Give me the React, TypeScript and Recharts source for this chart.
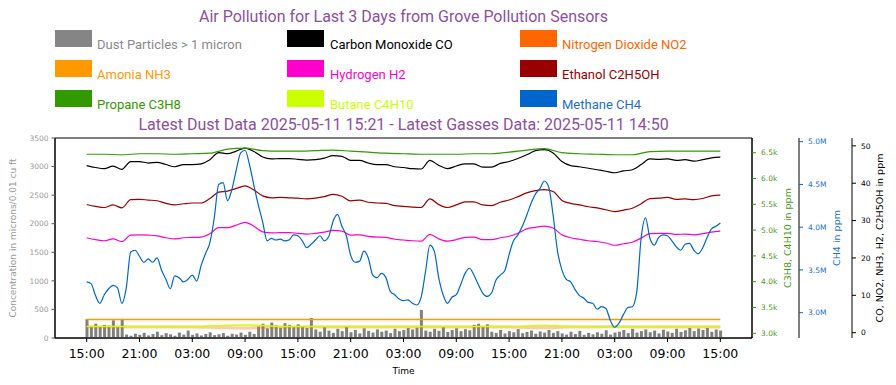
import { ComposedChart, Bar, Line, XAxis, YAxis, ReferenceArea } from 'recharts'

const TITLE = 'Air Pollution for Last 3 Days from Grove Pollution Sensors'
const SUBTITLE = 'Latest Dust Data 2025-05-11 15:21 - Latest Gasses Data: 2025-05-11 14:50'

// hours since 15:00 on the first day
const TIME_TICKS = [0, 6, 12, 18, 24, 30, 36, 42, 48, 54, 60, 66, 72]
const TIME_LABELS = [
  '15:00', '21:00', '03:00', '09:00', '15:00', '21:00', '03:00',
  '09:00', '15:00', '21:00', '03:00', '09:00', '15:00',
]

const LEGEND_NAMES = [
  'Dust Particles > 1 micron', 'Carbon Monoxide CO', 'Nitrogen Dioxide NO2',
  'Amonia NH3', 'Hydrogen H2', 'Ethanol C2H5OH',
  'Propane C3H8', 'Butane C4H10', 'Methane CH4',
]
const LEGEND_COLORS = [
  '#858585', '#000000', '#ff6600',
  '#ff9900', '#ff00cc', '#990000',
  '#339900', '#ccff00', '#0066cc',
]
const LEGEND_TEXT_COLORS = [
  '#8a8a8a', '#000000', '#ff6600',
  '#ff9900', '#ff00cc', '#990000',
  '#339900', '#ccff00', '#1a6fd0',
]

// dust, particles per 0.01 cu ft, every 30 minutes
const DUST = [
  330, 210, 250, 195, 230, 215, 310, 200, 335,
  60, 40, 75, 55, 90, 45, 70, 110, 50, 85, 65, 40, 95, 60, 130, 55,
  80, 45, 70, 100, 50, 65, 85, 40, 75, 60, 95, 55, 110, 70,
  200, 250, 170, 270, 220, 180, 260, 230, 190, 240, 210, 175, 350,
  150, 110, 190, 130, 90, 160, 120, 210, 100, 140, 80,
  170, 125, 95, 150, 110, 130, 85, 160, 120, 140, 175,
  150, 180, 490, 130, 110, 160, 125, 190, 105, 140, 170, 120, 155, 135,
  230, 250, 200, 240,
  110, 90, 140, 80, 120, 100, 155, 85, 105, 130, 75, 115, 95, 140, 90, 120,
  80, 60, 110, 70, 125, 55, 90, 65, 100, 75, 135, 60, 95,
  110, 140, 85, 160, 95, 120, 150, 100, 130, 80, 145, 115,
  90, 160, 105, 135, 175, 120, 165, 140, 175, 110, 150, 130,
]

// methane, millions of ppm, every 30 minutes
const CH4 = [
  3.36, 3.34, 3.20, 3.11, 3.21, 3.28, 3.32, 3.29, 3.11, 3.29, 3.71, 3.73,
  3.66, 3.59, 3.63, 3.59, 3.64, 3.50, 3.39, 3.28, 3.43, 3.41, 3.36, 3.39,
  3.44, 3.37, 3.55, 3.69, 3.82, 4.11, 4.50, 4.52, 4.31, 4.44, 4.67, 4.87,
  4.90, 4.73, 4.49, 4.26, 4.06, 3.84, 3.87, 3.85, 3.86, 3.84, 3.85, 3.91,
  3.90, 3.84, 3.76, 3.80, 3.85, 3.90, 3.84, 3.89, 4.07, 4.15, 4.01, 3.90,
  3.67, 3.59, 3.60, 3.72, 3.64, 3.44, 3.41, 3.46, 3.41, 3.25, 3.21, 3.16,
  3.14, 3.15, 3.11, 3.09, 3.18, 3.48, 3.79, 3.72, 3.41, 3.21, 3.11, 3.18,
  3.21, 3.33, 3.46, 3.52, 3.44, 3.33, 3.23, 3.19, 3.23, 3.38, 3.44, 3.49,
  3.68, 3.84, 3.91, 4.01, 4.14, 4.28, 4.39, 4.45, 4.54, 4.47, 4.14, 3.72,
  3.50, 3.39, 3.36, 3.27, 3.20, 3.17, 3.12, 3.11, 3.04, 3.07, 3.05, 2.91,
  2.83, 2.88, 2.98, 3.06, 3.07, 3.24, 3.87, 4.11, 3.87, 3.79, 3.88, 3.91,
  3.90, 3.84, 3.77, 3.73, 3.80, 3.81, 3.73, 3.69, 3.76, 3.88, 3.98, 4.01,
  4.05,
]

// ppm, every hour
const CO = [
  44.7, 44.2, 43.9, 44.6, 43.7, 45.8, 45.8, 45.4, 45.6, 45.0, 44.4, 45.0,
  45.0, 45.2, 46.3, 48.2, 47.9, 48.6, 49.4, 48.5, 47.0, 46.5, 46.6, 46.6,
  46.4, 46.2, 46.3, 46.7, 47.4, 47.2, 46.1, 46.1, 45.4, 45.0, 45.0, 44.4,
  44.2, 43.9, 43.8, 46.1, 44.8, 43.9, 44.6, 45.2, 45.2, 44.3, 44.3, 45.3,
  45.8, 46.6, 47.6, 48.7, 49.0, 48.1, 45.8, 44.7, 44.4, 44.0, 43.6, 43.2,
  42.8, 43.3, 43.6, 45.0, 46.5, 46.4, 46.5, 46.1, 46.3, 45.9, 46.3, 46.8,
  47.0,
]
const C2H5OH = [
  34.3, 33.8, 33.5, 34.2, 33.4, 35.6, 35.7, 35.5, 35.3, 34.6, 34.2, 34.5,
  34.7, 34.7, 35.9, 37.6, 37.9, 38.6, 39.3, 38.2, 36.6, 36.1, 36.2, 36.1,
  36.0, 35.8, 36.0, 36.4, 37.0, 36.5, 35.3, 35.5, 34.9, 34.7, 34.6, 34.0,
  33.8, 33.6, 33.5, 35.8, 34.3, 33.5, 34.2, 35.0, 35.0, 34.2, 34.0, 34.9,
  35.5, 36.4, 37.4, 38.0, 38.3, 37.8, 35.4, 34.6, 34.2, 33.7, 33.4, 32.9,
  32.4, 32.8, 33.3, 34.5, 35.9, 36.0, 36.2, 35.7, 35.8, 35.6, 35.9, 36.6,
  36.8,
]
const H2 = [
  25.4, 24.9, 24.6, 25.1, 24.4, 26.1, 26.2, 26.1, 25.9, 25.4, 25.1, 25.4,
  25.5, 25.6, 26.5, 28.1, 28.1, 28.8, 29.5, 28.5, 27.0, 26.7, 26.8, 26.8,
  26.6, 26.4, 26.6, 26.9, 27.4, 27.2, 26.1, 26.2, 25.8, 25.6, 25.5, 25.0,
  24.8, 24.6, 24.5, 26.3, 25.1, 24.5, 24.9, 25.5, 25.6, 24.9, 24.9, 25.4,
  25.8, 26.6, 27.8, 28.2, 28.5, 28.0, 26.2, 25.4, 25.0, 24.6, 24.4, 24.0,
  23.4, 23.8, 24.2, 25.3, 26.5, 26.6, 26.6, 26.3, 26.4, 26.2, 26.5, 26.9,
  27.2,
]

// every 2 hours
const NH3 = [
  3.5, 3.5, 3.5, 3.5, 3.5, 3.5, 3.5, 3.5, 3.5, 3.5, 3.5, 3.5, 3.5,
  3.5, 3.5, 3.5, 3.5, 3.5, 3.5, 3.5, 3.5, 3.5, 3.5, 3.5, 3.5, 3.5,
  3.5, 3.5, 3.5, 3.5, 3.5, 3.5, 3.5, 3.5, 3.5, 3.5, 3.5,
]
const NO2 = [
  1.6, 1.55, 1.55, 1.5, 1.55, 1.55, 1.55, 1.45, 1.3, 1.25, 1.4, 1.55, 1.55,
  1.55, 1.5, 1.5, 1.55, 1.55, 1.55, 1.5, 1.5, 1.55, 1.55, 1.5, 1.5, 1.4,
  1.35, 1.45, 1.55, 1.55, 1.6, 1.55, 1.55, 1.55, 1.55, 1.5, 1.55,
]
// thousands of ppm, every 2 hours
const C3H8 = [
  6.47, 6.47, 6.46, 6.48, 6.48, 6.47, 6.48, 6.49, 6.57, 6.59, 6.54, 6.53, 6.53,
  6.54, 6.55, 6.53, 6.51, 6.49, 6.48, 6.47, 6.47, 6.47, 6.48, 6.48, 6.51, 6.55,
  6.58, 6.50, 6.48, 6.47, 6.46, 6.46, 6.52, 6.53, 6.53, 6.53, 6.53,
]
const C4H10 = [
  3.13, 3.13, 3.13, 3.13, 3.13, 3.13, 3.13, 3.14, 3.15, 3.16, 3.15, 3.13, 3.13,
  3.13, 3.13, 3.13, 3.13, 3.13, 3.13, 3.13, 3.13, 3.13, 3.13, 3.13, 3.13, 3.14,
  3.15, 3.14, 3.13, 3.13, 3.12, 3.13, 3.13, 3.13, 3.13, 3.13, 3.13,
]

const series = (values: number[], step: number) =>
  values.map((v, i) => ({ t: i * step, v }))

const dustData = DUST.map((dust, i) => ({ t: i * 0.5, dust }))

const FONT = '"DejaVu Sans", sans-serif'
const X_DOMAIN: [number, number] = [-3.6, 75.6]

export default function App() {
  const colX = [55, 287, 520]
  const textX = [97, 330, 562]
  return (
    <div style={{ position: 'absolute', left: 0, top: 0, width: 896, height: 385, background: '#fff', fontFamily: FONT }}>
      <ComposedChart
        width={896}
        height={385}
        data={dustData}
        margin={{ top: 138, right: 0, bottom: 0, left: 0 }}
      >
        <XAxis
          dataKey="t"
          type="number"
          domain={X_DOMAIN}
          allowDataOverflow
          ticks={TIME_TICKS}
          tickFormatter={(t: number) => TIME_LABELS[TIME_TICKS.indexOf(t)] ?? ''}
          tick={{ fontSize: 12.5, fill: '#000' }}
          tickSize={4}
          tickMargin={7}
          axisLine={{ stroke: '#000' }}
          tickLine={{ stroke: '#000' }}
          height={47}
          label={{ value: 'Time', position: 'insideBottom', offset: 11, style: { fontSize: 9, fill: '#000' } }}
        />
        <YAxis
          yAxisId="left"
          domain={[0, 3500]}
          ticks={[0, 500, 1000, 1500, 2000, 2500, 3000, 3500]}
          width={55}
          tick={{ fontSize: 7.5, fill: '#999' }}
          tickSize={3.5}
          tickMargin={3}
          axisLine={{ stroke: '#000' }}
          tickLine={{ stroke: '#555' }}
          label={{
            value: 'Concentration in microns/0.01 cu ft',
            angle: -90,
            position: 'insideLeft',
            offset: 13,
            style: { textAnchor: 'middle', fontSize: 9, fill: '#999' },
          }}
        />
        <YAxis
          yAxisId="r1"
          orientation="right"
          domain={[2.909, 6.785]}
          allowDataOverflow
          ticks={[3, 3.5, 4, 4.5, 5, 5.5, 6, 6.5]}
          tickFormatter={(v: number) => `${v.toFixed(1)}k`}
          width={47}
          tick={{ fontSize: 7.5, fill: '#4a9a22' }}
          tickSize={4}
          tickMargin={5}
          axisLine={{ stroke: '#000' }}
          tickLine={{ stroke: '#339900' }}
          label={{
            value: 'C3H8, C4H10 in ppm',
            angle: -90,
            position: 'insideRight',
            offset: 11,
            style: { textAnchor: 'middle', fontSize: 9.5, fill: '#4a9a22' },
          }}
        />
        <YAxis
          yAxisId="r2"
          orientation="right"
          domain={[2.704, 5.043]}
          allowDataOverflow
          ticks={[3, 3.5, 4, 4.5, 5]}
          tickFormatter={(v: number) => `${v.toFixed(1)}M`}
          width={53}
          tick={{ fontSize: 7.5, fill: '#1a6fd0' }}
          tickSize={4}
          tickMargin={5}
          axisLine={{ stroke: '#000' }}
          tickLine={{ stroke: '#0066cc' }}
          label={{
            value: 'CH4 in ppm',
            angle: -90,
            position: 'insideRight',
            offset: 15,
            style: { textAnchor: 'middle', fontSize: 9.5, fill: '#1a6fd0' },
          }}
        />
        <YAxis
          yAxisId="r3"
          orientation="right"
          domain={[-1.42, 52.1]}
          allowDataOverflow
          ticks={[0, 10, 20, 30, 40, 50]}
          width={44}
          tick={{ fontSize: 7.5, fill: '#000' }}
          tickSize={4}
          tickMargin={5}
          axisLine={{ stroke: '#000' }}
          tickLine={{ stroke: '#000' }}
          label={{
            value: 'CO, NO2, NH3, H2, C2H5OH in ppm',
            angle: -90,
            position: 'insideRight',
            offset: 16,
            style: { textAnchor: 'middle', fontSize: 9.5, fill: '#000' },
          }}
        />
        <ReferenceArea
          yAxisId="left"
          x1={X_DOMAIN[0]}
          x2={X_DOMAIN[1]}
          y1={0}
          y2={3500}
          fill="none"
          stroke="#000"
          strokeWidth={1}
          fillOpacity={0}
        />
        <Bar yAxisId="left" dataKey="dust" fill="#808080" barSize={3} isAnimationActive={false} />
        <Line yAxisId="r3" data={series(NH3, 2)} dataKey="v" stroke="#ff9900" strokeWidth={1.5} dot={false} type="monotone" isAnimationActive={false} />
        <Line yAxisId="r3" data={series(NO2, 2)} dataKey="v" stroke="#ff6600" strokeOpacity={0.35} strokeWidth={3} dot={false} type="monotone" isAnimationActive={false} />
        <Line yAxisId="r1" data={series(C4H10, 2)} dataKey="v" stroke="#ccff00" strokeWidth={1.5} dot={false} type="monotone" isAnimationActive={false} />
        <Line yAxisId="r3" data={series(H2, 1)} dataKey="v" stroke="#ff00cc" strokeWidth={1.2} dot={false} type="monotone" isAnimationActive={false} />
        <Line yAxisId="r3" data={series(C2H5OH, 1)} dataKey="v" stroke="#990000" strokeWidth={1.2} dot={false} type="monotone" isAnimationActive={false} />
        <Line yAxisId="r3" data={series(CO, 1)} dataKey="v" stroke="#000000" strokeWidth={1.2} dot={false} type="monotone" isAnimationActive={false} />
        <Line yAxisId="r1" data={series(C3H8, 2)} dataKey="v" stroke="#339900" strokeWidth={1.2} dot={false} type="monotone" isAnimationActive={false} />
        <Line yAxisId="r2" data={series(CH4, 0.5)} dataKey="v" stroke="#0066cc" strokeWidth={1.2} dot={false} type="monotone" isAnimationActive={false} />
      </ComposedChart>

      <svg width={896} height={385} style={{ position: 'absolute', left: 0, top: 0, pointerEvents: 'none' }}>
        <g fontFamily="Roboto, sans-serif" fill="#8c4f9f" fontSize={16} textAnchor="middle">
          <text x={403.5} y={22}>{TITLE}</text>
          <text x={403.5} y={130}>{SUBTITLE}</text>
        </g>
        {LEGEND_NAMES.map((name, i) => {
          const col = i % 3
          const row = Math.floor(i / 3)
          return (
            <g key={name}>
              <rect x={colX[col]} y={30 + row * 30} width={37} height={17} fill={LEGEND_COLORS[i]} />
              <text
                x={textX[col]}
                y={49 + row * 30}
                fontFamily="Roboto, sans-serif"
                fontSize={13}
                fill={LEGEND_TEXT_COLORS[i]}
              >
                {name}
              </text>
            </g>
          )
        })}
      </svg>
    </div>
  )
}
